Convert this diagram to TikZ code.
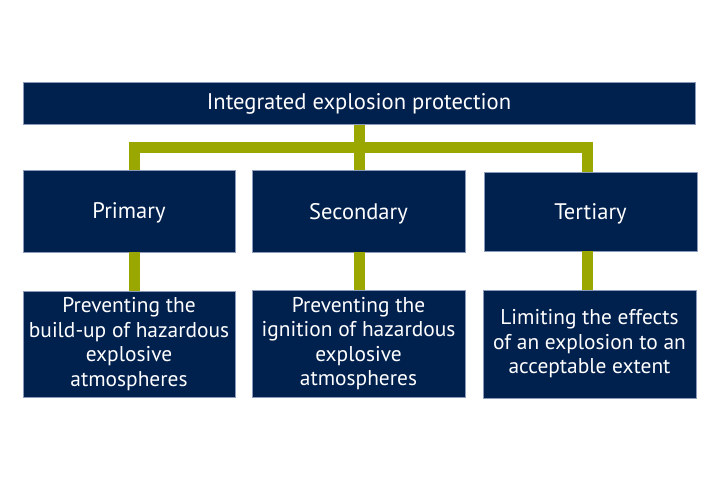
\documentclass[tikz,border=0pt]{standalone}
\usepackage{fontspec}
\setmainfont{PT Sans}
\usepackage{tikz}
\definecolor{navy}{HTML}{00204E}
\definecolor{olive}{HTML}{9AA700}
\definecolor{edge}{HTML}{8A9AB8}
\tikzset{
  box/.style={draw=edge, line width=0.7pt, fill=navy, text=white, inner sep=0pt, align=center},
  bus/.style={draw=olive, line width=11pt, line join=miter}
}

\begin{document}
\begin{tikzpicture}[x=1pt, y=-1pt]
    % canvas
    \fill[white] (0,0) rectangle (719,480);
    \useasboundingbox (0,0) rectangle (719,480);
    % boxes
    \node[box, minimum width=672pt, minimum height=42pt, font=\fontsize{22.6}{26}\selectfont] (top) at (359,103.5) {Integrated explosion protection};
    \node[box, minimum width=212pt, minimum height=82pt, text depth=0pt, font=\fontsize{22.5}{26}\selectfont] (prim) at (129,211) {Primary};
    \node[box, minimum width=213pt, minimum height=82pt, text depth=0pt, font=\fontsize{22.5}{26}\selectfont] (sec) at (358.5,211) {Secondary};
    \node[box, minimum width=213pt, minimum height=79pt, text depth=0pt, font=\fontsize{22.5}{26}\selectfont] (tert) at (590.5,211.5) {Tertiary};
    \node[box, minimum width=212pt, minimum height=106pt, font=\fontsize{21.4}{24.5}\selectfont] (buildup) at (129,344) {Preventing the\\build-up of hazardous\\explosive\\atmospheres};
    \node[box, minimum width=213pt, minimum height=107pt, font=\fontsize{21.4}{24.5}\selectfont] (ignition) at (358.5,343.5) {Preventing the\\ignition of hazardous\\explosive\\atmospheres};
    \node[box, minimum width=213pt, minimum height=108pt, font=\fontsize{21.4}{24.5}\selectfont] (limit) at (589.5,344) {Limiting the effects\\of an explosion to an\\acceptable extent};
    % connectors
    \coordinate (busL) at (134.5,147.5);
    \coordinate (busM) at (359,147.5);
    \coordinate (busR) at (587,147.5);
    \draw[bus] (busL |- prim.north) -- (busL) -- (busR) -- (busR |- tert.north);
    \draw[bus] (busM |- top.south) -- (busM |- sec.north);
    \draw[bus] (busL |- prim.south) -- (busL |- buildup.north);
    \draw[bus] (busM |- sec.south) -- (busM |- ignition.north);
    \draw[bus] (busR |- tert.south) -- (busR |- limit.north);
\end{tikzpicture}
\end{document}
